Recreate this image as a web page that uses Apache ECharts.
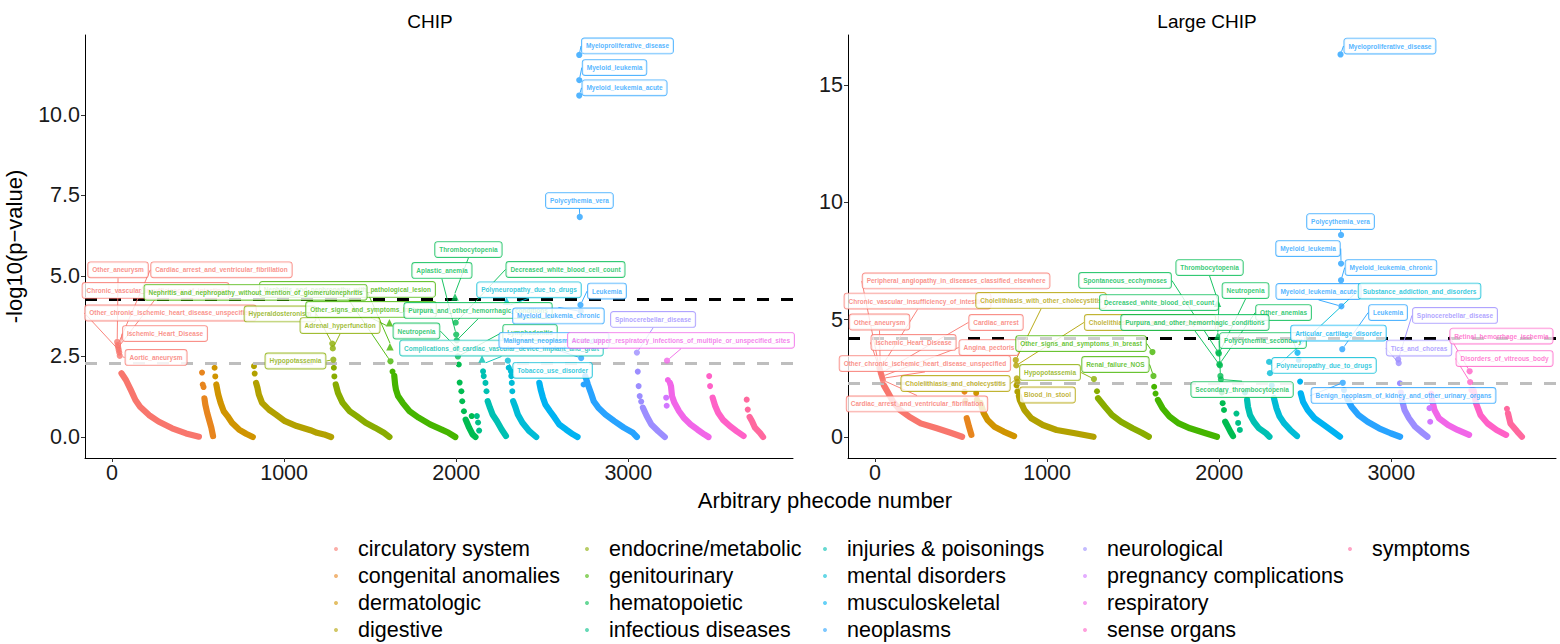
<!DOCTYPE html>
<html><head><meta charset="utf-8">
<script src="https://cdn.jsdelivr.net/npm/echarts@6/dist/echarts.min.js"></script>
<style>html,body{margin:0;padding:0;background:#fff}#c{width:1560px;height:644px}</style>
</head><body><div id="c"></div>
<script>
// ---------------- DATA ----------------
const categories = ['circulatory system','congenital anomalies','dermatologic','digestive',
  'endocrine/metabolic','genitourinary','hematopoietic','infectious diseases',
  'injuries & poisonings','mental disorders','musculoskeletal','neoplasms',
  'neurological','pregnancy complications','respiratory','sense organs','symptoms'];
const panelTitles = ['CHIP', 'Large CHIP'];
const xTicks = [0, 1000, 2000, 3000];
const chipYTicks = [0, 2.5, 5, 7.5, 10];
const largeYTicks = [0, 5, 10, 15];
const chipThresholds = [4.29, 2.3];
const largeThresholds = [4.22, 2.3];

// dense sorted part of each category ([phecode number, -log10 p]) – CHIP
const chipCurves = [
 [[55,1.98],[81,1.77],[109,1.46],[136,1.15],[163,0.94],[215,0.68],[270,0.48],[349,0.27],[430,0.11],[505,0.01]],
 [[537,1.2],[542,1.01],[553,0.75],[564,0.54],[577,0.29],[587,0.03]],
 [[606,1.63],[617,1.32],[631,1.06],[649,0.8],[671,0.65],[697,0.44],[738,0.23],[779,0.1],[818,0.0]],
 [[837,1.68],[845,1.53],[853,1.32],[872,1.06],[912,0.85],[952,0.7],[1005,0.49],[1073,0.34],[1153,0.21],[1191,0.13],[1232,0.08],[1273,0.0]],
 [[1300,1.63],[1313,1.37],[1340,1.06],[1381,0.8],[1421,0.65],[1474,0.44],[1528,0.29],[1580,0.13],[1612,0.0]],
 [[1640,1.9],[1645,1.63],[1650,1.47],[1662,1.27],[1689,1.06],[1729,0.8],[1782,0.6],[1848,0.39],[1916,0.23],[1956,0.13],[1995,0.0]],
 [[2055,0.54],[2075,0.29],[2095,0.08],[2112,0.0]],
 [],
 [[2183,1.11],[2196,0.91],[2211,0.7],[2237,0.49],[2264,0.23],[2289,0.03]],
 [[2331,1.11],[2345,0.91],[2358,0.7],[2385,0.44],[2425,0.18],[2465,0.0]],
 [[2483,1.68],[2491,1.47],[2504,1.22],[2518,1.01],[2545,0.8],[2572,0.6],[2599,0.39],[2639,0.23],[2679,0.08],[2705,0.0]],
 [[2750,1.89],[2765,1.63],[2786,1.32],[2799,1.11],[2826,0.91],[2867,0.7],[2920,0.49],[2974,0.29],[3027,0.13],[3050,0.0]],
 [[3085,0.91],[3107,0.65],[3134,0.39],[3174,0.18],[3212,0.0]],
 [],
 [[3242,1.68],[3248,1.58],[3254,1.27],[3268,1.06],[3295,0.8],[3322,0.6],[3362,0.39],[3402,0.23],[3442,0.08],[3466,0.0]],
 [[3490,1.22],[3505,0.96],[3522,0.75],[3549,0.54],[3590,0.34],[3630,0.18],[3670,0.03]],
 [[3705,0.62],[3719,0.49],[3736,0.29],[3765,0.13],[3783,0.0]]
];
// isolated (sparse) points – CHIP
const chipDots = [
 [],
 [[523,2.0],[527,1.63],[532,1.55]],
 [[596,2.15],[600,1.88]],
 [[825,2.2],[829,1.97]],
 [[1289,2.15],[1292,1.88]],
 [[1630,2.03]],
 [[2015,2.25],[2020,1.69],[2030,1.42],[2035,1.11],[2045,0.8],[2090,0.65]],
 [[2120,0.65],[2127,0.45],[2133,0.2]],
 [[2156,2.04],[2160,1.89],[2170,1.68],[2176,1.42]],
 [[2305,2.15],[2318,2.04],[2320,1.89],[2323,1.68],[2326,1.42]],
 [],
 [[2740,1.63]],
 [[3055,2.03],[3060,1.58],[3066,1.27],[3075,1.1]],
 [[3220,1.22],[3223,0.97]],
 [[3230,1.77]],
 [[3470,1.89],[3475,1.58]],
 [[3688,1.16],[3694,0.85]]
];
// labelled points: [x, y, phenotype, category index, shape]
const chipLabeled = [
 [30,2.95,'Other_aneurysm',0,'c'],
 [33,2.85,'Cardiac_arrest_and_ventricular_fibrillation',0,'c'],
 [36,2.78,'Chronic_vascular_insufficiency_of_intestine',0,'c'],
 [39,2.7,'Other_chronic_ischemic_heart_disease_unspecified',0,'c'],
 [42,2.62,'Ischemic_Heart_Disease',0,'c'],
 [45,2.52,'Aortic_aneurysm',0,'c'],
 [1618,2.35,'Nephritis_and_nephropathy_with_pathological_lesion',5,'c'],
 [1615,2.8,'Nephritis_and_nephropathy_without_mention_of_glomerulonephritis',5,'t'],
 [1280,2.9,'Hyperaldosteronism',4,'c'],
 [1283,2.75,'Adrenal_hyperfunction',4,'c'],
 [1286,2.4,'Hypopotassemia',4,'c'],
 [1612,3.55,'Other_signs_and_symptoms_in_breast',5,'t'],
 [2006,2.75,'Neutropenia',6,'c'],
 [1993,4.35,'Thrombocytopenia',6,'t'],
 [2000,3.18,'Aplastic_anemia',6,'c'],
 [1997,3.55,'Decreased_white_blood_cell_count',6,'c'],
 [2150,2.42,'Complications_of_cardiac_vascular_device_implant_and_graft',8,'t'],
 [2003,3.0,'Purpura_and_other_hemorrhagic_conditions',6,'c'],
 [2010,2.5,'Lymphadenitis',6,'c'],
 [2293,4.22,'Polyneuropathy_due_to_drugs',9,'t'],
 [2724,3.9,'Myeloid_leukemia_chronic',11,'c'],
 [2726,2.45,'Malignant_neoplasm_of_bladder',11,'c'],
 [3225,2.37,'Acute_upper_respiratory_infections_of_multiple_or_unspecified_sites',14,'c'],
 [2722,4.1,'Leukemia',11,'c'],
 [2300,2.37,'Tobacco_use_disorder',9,'c'],
 [3050,2.62,'Spinocerebellar_disease',12,'c'],
 [2715,11.86,'Myeloproliferative_disease',11,'c'],
 [2715,11.08,'Myeloid_leukemia',11,'c'],
 [2715,10.6,'Myeloid_leukemia_acute',11,'c'],
 [2718,6.83,'Polycythemia_vera',11,'c']
];
// label box centres (data units), same order as chipLabeled
const chipLabelAt = [
 [35,5.19],[636,5.19],[253,4.55],[340,3.85],[308,3.21],[256,2.47],
 [1368,4.58],[834,4.49],[976,3.82],[1325,3.46],[1066,2.36],[1505,3.96],
 [1769,3.29],[2071,5.82],[1917,5.17],[2635,5.2],[2263,2.76],[2127,3.93],
 [2429,3.25],[2423,4.57],[2594,3.76],[2568,3.0],[3306,3.0],[2876,4.53],
 [2560,2.07],[3144,3.65],[2995,12.14],[2920,11.47],[2978,10.84],[2716,7.34]
];

// Large CHIP
const largeCurves = [
 [[51,2.21],[78,1.86],[105,1.5],[145,1.15],[198,0.87],[265,0.58],[359,0.37],[439,0.18],[506,0.01]],
 [[533,0.8],[546,0.44],[560,0.09]],
 [[613,1.45],[632,1.01],[654,0.72],[694,0.44],[747,0.23],[808,0.04]],
 [[836,1.75],[841,1.58],[868,1.15],[908,0.8],[975,0.51],[1055,0.3],[1162,0.16],[1270,0.01]],
 [[1296,1.65],[1336,1.29],[1377,0.94],[1429,0.65],[1497,0.37],[1550,0.18],[1591,0.01]],
 [[1644,1.58],[1671,1.22],[1711,0.87],[1765,0.58],[1830,0.37],[1912,0.18],[1987,0.01]],
 [[2035,0.65],[2050,0.44],[2065,0.23],[2080,0.04]],
 [],
 [[2162,1.58],[2167,1.29],[2179,0.94],[2201,0.65],[2231,0.37],[2272,0.16],[2292,0.01]],
 [[2318,1.65],[2333,1.22],[2351,0.87],[2378,0.58],[2413,0.3],[2452,0.04]],
 [[2474,1.86],[2487,1.5],[2514,1.15],[2554,0.8],[2609,0.51],[2661,0.23],[2702,0.01]],
 [[2743,1.65],[2769,1.29],[2809,0.94],[2862,0.65],[2929,0.37],[2996,0.16],[3051,0.01]],
 [[3062,1.58],[3077,1.15],[3103,0.8],[3138,0.44],[3184,0.16],[3210,0.01]],
 [],
 [[3237,1.58],[3251,1.15],[3277,0.8],[3330,0.51],[3385,0.3],[3452,0.09]],
 [[3478,2.0],[3492,1.44],[3518,0.94],[3559,0.58],[3612,0.3],[3667,0.09]],
 [[3678,1.01],[3692,0.58],[3732,0.23],[3759,0.01]]
];
const largeDots = [
 [],
 [[520,1.93],[525,1.55]],
 [[588,1.87],[592,1.6]],
 [[822,2.2],[827,1.93]],
 [[1290,1.95]],
 [[1622,2.14],[1630,1.85]],
 [[2015,1.9],[2020,1.44],[2028,1.15]],
 [[2100,1.0],[2110,0.6],[2120,0.3]],
 [[2150,1.9]],
 [[2305,2.2]],
 [[2462,3.28],[2470,2.36]],
 [[2725,2.0]],
 [[3050,2.29],[3056,1.9]],
 [[3222,1.23],[3226,0.65]],
 [[3232,1.85]],
 [[3465,2.0]],
 [[3672,1.2]]
];
const largeLabeled = [
 [25,2.95,'Peripheral_angiopathy_in_diseases_classified_elsewhere',0,'c'],
 [28,2.88,'Chronic_vascular_insufficiency_of_intestine',0,'c'],
 [31,2.8,'Other_aneurysm',0,'c'],
 [34,2.72,'Cardiac_arrest',0,'c'],
 [37,2.65,'Ischemic_Heart_Disease',0,'c'],
 [43,2.5,'Other_chronic_ischemic_heart_disease_unspecified',0,'c'],
 [40,2.58,'Angina_pectoris',0,'c'],
 [46,2.42,'Cardiac_arrest_and_ventricular_fibrillation',0,'c'],
 [818,3.28,'Cholelithiasis_with_other_cholecystitis',3,'c'],
 [821,3.05,'Cholelithiasis_with_acute_cholecystitis',3,'c'],
 [824,2.5,'Cholelithiasis_and_cholecystitis',3,'c'],
 [1612,3.62,'Other_signs_and_symptoms_in_breast',5,'c'],
 [827,2.35,'Blood_in_stool',3,'c'],
 [1272,2.47,'Hypopotassemia',4,'c'],
 [1618,2.6,'Renal_failure_NOS',5,'c'],
 [1995,3.6,'Spontaneous_ecchymoses',6,'c'],
 [1990,5.7,'Thrombocytopenia',6,'t'],
 [1992,4.3,'Decreased_white_blood_cell_count',6,'t'],
 [1998,3.55,'Neutropenia',6,'c'],
 [2001,3.1,'Other_anemias',6,'c'],
 [2004,3.05,'Purpura_and_other_hemorrhagic_conditions',6,'c'],
 [2007,2.6,'Polycythemia_secondary',6,'c'],
 [2010,2.45,'Secondary_thrombocytopenia',6,'c'],
 [2290,3.2,'Polyneuropathy_due_to_drugs',9,'c'],
 [2455,3.59,'Articular_cartilage_disorder',10,'c'],
 [2710,5.57,'Myeloid_leukemia_acute',11,'c'],
 [2295,2.72,'Substance_addiction_and_disorders',9,'c'],
 [2705,16.3,'Myeloproliferative_disease',11,'c'],
 [2708,8.61,'Polycythemia_vera',11,'c'],
 [2708,7.39,'Myeloid_leukemia',11,'c'],
 [2708,6.68,'Myeloid_leukemia_chronic',11,'c'],
 [2715,3.74,'Leukemia',11,'c'],
 [3040,3.3,'Spinocerebellar_disease',12,'c'],
 [3043,3.15,'Tics_and_choreas',12,'c'],
 [3455,2.8,'Retinal_hemorrhage_ischemia',15,'c'],
 [3458,2.34,'Disorders_of_vitreous_body',15,'c'],
 [2718,2.31,'Benign_neoplasm_of_kidney_and_other_urinary_organs',11,'c']
];
const largeLabelAt = [
 [471,6.65],[247,5.79],[26,4.9],[703,4.88],[224,4.03],[290,3.13],[662,3.81],[244,1.41],
 [965,5.82],[1598,4.88],[468,2.28],[1197,3.98],[1002,1.79],[1017,2.75],[1397,3.09],
 [1453,6.67],[1944,7.22],[1650,5.73],[2153,6.24],[2374,5.3],[1859,4.88],[2254,4.11],[2133,2.02],
 [2609,3.05],[2693,4.43],[2577,6.2],[3164,6.22],
 [2992,16.66],[2705,9.18],[2516,8.03],[2998,7.22],[2981,5.3],
 [3370,5.18],[3161,3.79],[3640,4.3],[3658,3.34],[3071,1.77]
];

// ---------------- STYLE / LAYOUT ----------------
const FONT = '"Liberation Sans", Arial, Helvetica, sans-serif';
const GRIDS = [{left:85, top:35, width:708, height:423}, {left:848, top:35, width:708, height:423}];
const X_RANGE = [-157, 3957];
const Y_RANGES = [[-0.652, 12.48], [-0.895, 17.13]];

function hcl2hex(h, c, l) {
  const hr = h * Math.PI / 180, U = c * Math.cos(hr), V = c * Math.sin(hr);
  const Y = Math.pow((l + 16) / 116, 3);
  const un = 0.197839, vn = 0.468336;
  const u = U / (13 * l) + un, v = V / (13 * l) + vn;
  const X = Y * 9 * u / (4 * v), Z = Y * (12 - 3 * u - 20 * v) / (4 * v);
  const lin = [3.2406*X - 1.5372*Y - 0.4986*Z, -0.9689*X + 1.8758*Y + 0.0415*Z, 0.0557*X - 0.2040*Y + 1.0570*Z];
  return '#' + lin.map(t => {
    let g = t <= 0.0031308 ? 12.92 * t : 1.055 * Math.pow(Math.max(t, 0), 1/2.4) - 0.055;
    g = Math.min(1, Math.max(0, g));
    return Math.round(g * 255).toString(16).padStart(2, '0');
  }).join('');
}
const COLORS = categories.map((_, i) => hcl2hex(15 + i * 360 / categories.length, 100, 65));

const chart = echarts.init(document.getElementById('c'), null, {renderer: 'svg', width: 1560, height: 644});

function toPx(p, x, y) {
  try {
    const r = chart.convertToPixel({xAxisIndex: p, yAxisIndex: p}, [x, y]);
    if (r && isFinite(r[0]) && isFinite(r[1])) return r;
  } catch (e) {}
  const g = GRIDS[p], yr = Y_RANGES[p];
  return [g.left + (x - X_RANGE[0]) / (X_RANGE[1] - X_RANGE[0]) * g.width,
          g.top + (yr[1] - y) / (yr[1] - yr[0]) * g.height];
}

function panelSeries(p, curves, dots, labeled, labelAt, thr) {
  const out = [];
  categories.forEach((name, c) => {
    const col = COLORS[c];
    if (curves[c].length) out.push({
      name, type: 'line', xAxisIndex: p, yAxisIndex: p, data: curves[c], symbol: 'none', showSymbol: false,
      lineStyle: {width: 6.2, color: col, cap: 'round', join: 'round'}, itemStyle: {color: col},
      z: 2, silent: true, animation: false
    });
    if (dots[c].length) out.push({
      name, type: 'scatter', xAxisIndex: p, yAxisIndex: p, data: dots[c], symbol: 'circle', symbolSize: 6,
      itemStyle: {color: col, opacity: 1}, z: 3, silent: true, animation: false
    });
  });
  out.push({
    name: 'labelled-' + p, type: 'scatter', xAxisIndex: p, yAxisIndex: p, z: 10, silent: true, animation: false,
    data: labeled.map(t => {
      const col = COLORS[t[3]];
      return {
        name: t[2], value: [t[0], t[1]],
        symbol: t[4] === 't' ? 'triangle' : 'circle', symbolSize: t[4] === 't' ? 7.5 : 6.2,
        itemStyle: {color: col},
        label: {color: col, borderColor: col},
        labelLine: {lineStyle: {color: col}}
      };
    }),
    label: {
      show: true, formatter: '{b}', fontSize: 6.5, fontWeight: 'bold', fontFamily: FONT,
      backgroundColor: '#fff', borderWidth: 0.9, borderRadius: 2.5, padding: [3.5, 4, 3.5, 4], lineHeight: 8
    },
    labelLine: {show: true, lineStyle: {width: 0.9}},
    labelLayout: function (params) {
      const a = labelAt[params.dataIndex];
      const pt = toPx(p, a[0], a[1]);
      return {x: pt[0], y: pt[1], align: 'center', verticalAlign: 'middle', hideOverlap: false};
    },
    markLine: {
      silent: true, symbol: 'none', z: 5, animation: false, label: {show: false},
      data: [
        {yAxis: thr[0], lineStyle: {color: '#000', type: [12, 12], width: 3}},
        {yAxis: thr[1], lineStyle: {color: '#BEBEBE', type: [12, 12], width: 3}}
      ]
    }
  });
  return out;
}

const TICK_FONT = 21.5;
const axisCommon = {
  axisLine: {show: true, onZero: false, lineStyle: {color: '#000', width: 1}},
  splitLine: {show: false}
};
const xAxes = [0, 1].map(p => Object.assign({}, axisCommon, {
  type: 'value', gridIndex: p, min: X_RANGE[0], max: X_RANGE[1],
  axisTick: {show: true, length: 4, customValues: xTicks, lineStyle: {color: '#333'}},
  axisLabel: {customValues: xTicks, fontSize: TICK_FONT, color: '#1a1a1a', margin: 4, fontFamily: FONT,
    formatter: v => String(Math.round(v))}
}));
const yAxes = [
  Object.assign({}, axisCommon, {
    type: 'value', gridIndex: 0, min: Y_RANGES[0][0], max: Y_RANGES[0][1],
    axisTick: {show: true, length: 4, customValues: chipYTicks, lineStyle: {color: '#333'}},
    axisLabel: {customValues: chipYTicks, fontSize: TICK_FONT, color: '#1a1a1a', margin: 5, fontFamily: FONT,
      formatter: v => Number(v).toFixed(1)},
    name: '-log10(p\u2212value)', nameLocation: 'middle', nameGap: 60, nameRotate: 90,
    nameTextStyle: {fontSize: 22, color: '#000', fontFamily: FONT}
  }),
  Object.assign({}, axisCommon, {
    type: 'value', gridIndex: 1, min: Y_RANGES[1][0], max: Y_RANGES[1][1],
    axisTick: {show: true, length: 4, customValues: largeYTicks, lineStyle: {color: '#333'}},
    axisLabel: {customValues: largeYTicks, fontSize: TICK_FONT, color: '#1a1a1a', margin: 5, fontFamily: FONT,
      formatter: v => String(Math.round(v))}
  })
];

const legendCols = [[0,1,2,3],[4,5,6,7],[8,9,10,11],[12,13,14,15],[16]];
const legendLefts = [334, 585, 823, 1083, 1348];
const legends = legendCols.map((idx, k) => ({
  orient: 'vertical', left: legendLefts[k], top: 537, padding: 0,
  itemWidth: 34, itemHeight: 4, itemGap: 3, icon: 'circle', selectedMode: false,
  data: idx.map(i => ({name: categories[i], icon: 'circle', itemStyle: {color: COLORS[i], opacity: 0.6}})),
  textStyle: {fontSize: 21.5, color: '#000', lineHeight: 24, fontFamily: FONT}
}));

chart.setOption({
  animation: false,
  backgroundColor: '#fff',
  textStyle: {fontFamily: FONT},
  title: [
    {text: panelTitles[0], left: 425, top: 7, textAlign: 'center', textStyle: {fontSize: 19, fontWeight: 'normal', color: '#000', fontFamily: FONT}},
    {text: panelTitles[1], left: 1202, top: 7, textAlign: 'center', textStyle: {fontSize: 19, fontWeight: 'normal', color: '#000', fontFamily: FONT}},
    {text: 'Arbitrary phecode number', left: 820, top: 484, textAlign: 'center', textStyle: {fontSize: 22, fontWeight: 'normal', color: '#000', fontFamily: FONT}}
  ],
  grid: GRIDS.map(g => Object.assign({containLabel: false, outerBoundsMode: 'none'}, g)),
  xAxis: xAxes,
  yAxis: yAxes,
  legend: legends,
  series: [].concat(
    panelSeries(0, chipCurves, chipDots, chipLabeled, chipLabelAt, chipThresholds),
    panelSeries(1, largeCurves, largeDots, largeLabeled, largeLabelAt, largeThresholds)
  )
});
</script>
</body></html>
